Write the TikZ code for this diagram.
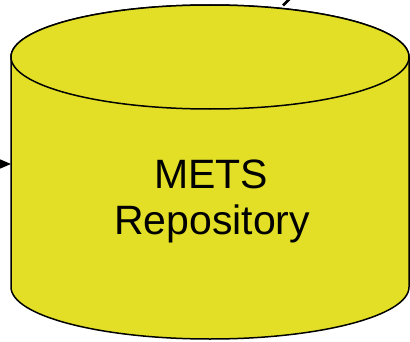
\documentclass[tikz,border=0pt]{standalone}
\usepackage{fontspec}
\setmainfont{Liberation Sans}
\usetikzlibrary{arrows.meta}
\definecolor{cylfill}{RGB}{226,223,38}
\begin{document}
\begin{tikzpicture}[x=1pt,y=1pt,
  cyl/.style={draw=black,line width=1.5pt,fill=cylfill},
  lbl/.style={font=\fontsize{41}{46}\selectfont,anchor=base,inner sep=0pt},
  conn/.style={draw=black,line width=2.5pt}]
\useasboundingbox (0,0) rectangle (410,341);
\clip (0,0) rectangle (410,341);
% cylinder
\coordinate (tc) at (210,284);
\coordinate (bc) at (210,54);
\path[cyl] (11,284) -- (11,54) arc[start angle=180,end angle=360,x radius=199,y radius=52]
  -- (409,284) arc[start angle=0,end angle=180,x radius=199,y radius=52] -- cycle;
\path[cyl] (tc) ellipse[x radius=199,y radius=52];
% labels
\node[lbl] (l1) at (211,153) {METS};
\node[lbl] (l2) at (212,107) {Repository};
% connectors
\coordinate (inL) at (-30,177);
\coordinate (inR) at (11,177);
\draw[line width=1.5pt,-{Triangle[length=11pt,width=9pt]}] (inL) -- (inR);
\coordinate (outA) at (283,335.5);
\coordinate (outB) at (305,357.5);
\draw[conn] (outA) -- (outB);
\end{tikzpicture}
\end{document}
